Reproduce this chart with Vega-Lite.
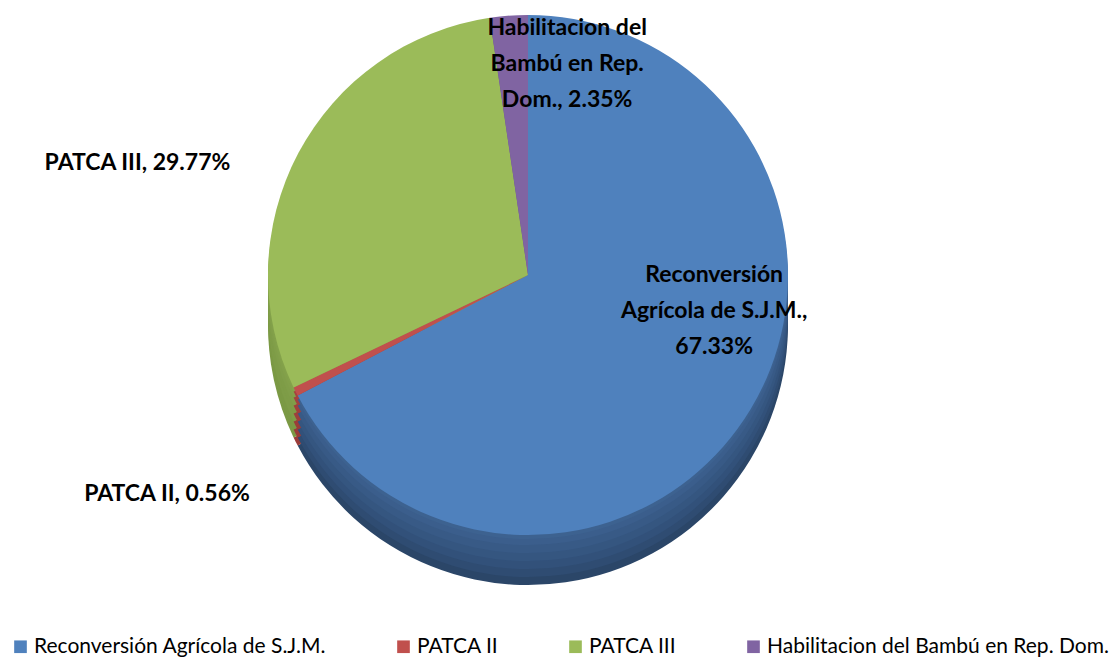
{
  "$schema": "https://vega.github.io/schema/vega-lite/v6.json",
  "width": 1036,
  "height": 550,
  "autosize": {"type": "none"},
  "padding": {"left": 10, "top": 0, "right": 73, "bottom": 108},
  "background": "white",
  "config": {"view": {"stroke": null}, "font": "Lato"},
  "data": {"values": [
    {"cat": "Reconversión Agrícola de S.J.M.", "pct": 67.33, "o": 1, "label": ["Reconversión", "Agrícola de S.J.M.,", "67.33%"]},
    {"cat": "PATCA II", "pct": 0.56, "o": 2, "label": ["PATCA II, 0.56%"]},
    {"cat": "PATCA III", "pct": 29.77, "o": 3, "label": ["PATCA III, 29.77%"]},
    {"cat": "Habilitacion del Bambú en Rep. Dom.", "pct": 2.35, "o": 4, "label": ["Habilitacion del", "Bambú en Rep.", "Dom., 2.35%"]}
  ]},
  "encoding": {
    "theta": {"field": "pct", "type": "quantitative", "stack": true},
    "order": {"field": "o", "type": "quantitative"}
  },
  "layer": [
    {"mark": {"type": "arc", "outerRadius": 260, "yOffset": 50},
     "encoding": {"color": {"field": "cat", "type": "nominal", "legend": null,
       "scale": {"domain": ["Reconversión Agrícola de S.J.M.", "PATCA II", "PATCA III", "Habilitacion del Bambú en Rep. Dom."], "range": ["#2b4668", "#9a3c39", "#7b9944", "#624d85"]}}}},
    {"mark": {"type": "arc", "outerRadius": 260, "yOffset": 42},
     "encoding": {"color": {"field": "cat", "type": "nominal", "legend": null,
       "scale": {"domain": ["Reconversión Agrícola de S.J.M.", "PATCA II", "PATCA III", "Habilitacion del Bambú en Rep. Dom."], "range": ["#2f4c72", "#9a3c39", "#7b9944", "#624d85"]}}}},
    {"mark": {"type": "arc", "outerRadius": 260, "yOffset": 34},
     "encoding": {"color": {"field": "cat", "type": "nominal", "legend": null,
       "scale": {"domain": ["Reconversión Agrícola de S.J.M.", "PATCA II", "PATCA III", "Habilitacion del Bambú en Rep. Dom."], "range": ["#32517a", "#9a3c39", "#7e9c47", "#624d85"]}}}},
    {"mark": {"type": "arc", "outerRadius": 260, "yOffset": 26},
     "encoding": {"color": {"field": "cat", "type": "nominal", "legend": null,
       "scale": {"domain": ["Reconversión Agrícola de S.J.M.", "PATCA II", "PATCA III", "Habilitacion del Bambú en Rep. Dom."], "range": ["#355680", "#9e3f3c", "#7e9c47", "#624d85"]}}}},
    {"mark": {"type": "arc", "outerRadius": 260, "yOffset": 18},
     "encoding": {"color": {"field": "cat", "type": "nominal", "legend": null,
       "scale": {"domain": ["Reconversión Agrícola de S.J.M.", "PATCA II", "PATCA III", "Habilitacion del Bambú en Rep. Dom."], "range": ["#385a86", "#a0403d", "#809e49", "#644e88"]}}}},
    {"mark": {"type": "arc", "outerRadius": 260, "yOffset": 10},
     "encoding": {"color": {"field": "cat", "type": "nominal", "legend": null,
       "scale": {"domain": ["Reconversión Agrícola de S.J.M.", "PATCA II", "PATCA III", "Habilitacion del Bambú en Rep. Dom."], "range": ["#3b5e8c", "#a2423f", "#82a04a", "#664f8a"]}}}},
    {"mark": {"type": "arc", "outerRadius": 260, "yOffset": 4},
     "encoding": {"color": {"field": "cat", "type": "nominal", "legend": null,
       "scale": {"domain": ["Reconversión Agrícola de S.J.M.", "PATCA II", "PATCA III", "Habilitacion del Bambú en Rep. Dom."], "range": ["#3d6290", "#a4433f", "#84a24b", "#68518c"]}}}},
    {"mark": {"type": "arc", "outerRadius": 260},
     "encoding": {"color": {"field": "cat", "type": "nominal", "sort": {"field": "o"},
       "scale": {"domain": ["Reconversión Agrícola de S.J.M.", "PATCA II", "PATCA III", "Habilitacion del Bambú en Rep. Dom."], "range": ["#4f81bd", "#c0504d", "#9bbb59", "#8064a2"]},
       "legend": {"title": null, "orient": "bottom", "direction": "horizontal", "offset": 86, "padding": 0,
         "symbolType": "square", "symbolSize": 160, "symbolStrokeWidth": 0, "labelFontSize": 21, "labelFont": "Lato",
         "labelColor": "#000000", "labelOffset": 3, "columnPadding": 66, "labelLimit": 500}}}},
    {"mark": {"type": "text", "radius": 165, "fontSize": 23, "fontWeight": "bold", "font": "Lato", "color": "#000000", "lineHeight": 36, "baseline": "middle", "dx": 45, "dy": -85},
     "encoding": {"text": {"condition": {"test": "datum.o == 1", "field": "label"}, "value": ""}}},
    {"mark": {"type": "text", "radius": 320, "fontSize": 23, "fontWeight": "bold", "font": "Lato", "color": "#000000", "align": "right", "dy": 38, "dx": -15},
     "encoding": {"text": {"condition": {"test": "datum.o == 3", "field": "label"}, "value": ""}}},
    {"mark": {"type": "text", "radius": 300, "fontSize": 23, "fontWeight": "bold", "font": "Lato", "color": "#000000", "align": "right", "dy": 85, "dx": -10},
     "encoding": {"text": {"condition": {"test": "datum.o == 2", "field": "label"}, "value": ""}}},
    {"mark": {"type": "text", "radius": 215, "fontSize": 23, "fontWeight": "bold", "font": "Lato", "color": "#000000", "lineHeight": 36, "baseline": "middle", "dx": 55, "dy": -33},
     "encoding": {"text": {"condition": {"test": "datum.o == 4", "field": "label"}, "value": ""}}}
  ],
  "resolve": {"scale": {"color": "independent"}}
}
